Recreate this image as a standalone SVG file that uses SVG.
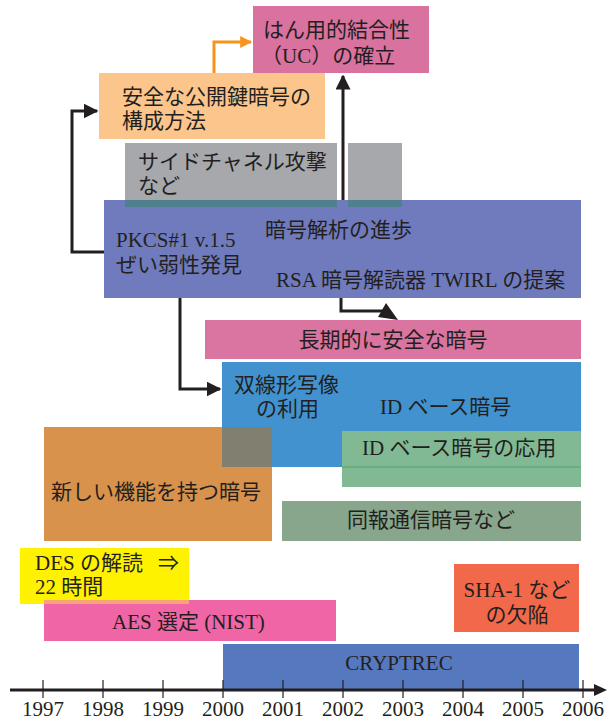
<svg xmlns="http://www.w3.org/2000/svg" width="608" height="722" viewBox="0 0 608 722">
<defs>
<style>
text{font-family:"Liberation Serif","Noto Sans CJK JP",serif;font-size:21px;fill:#231f20}
.c{text-anchor:middle}
.ln{fill:none;stroke:#231f20;stroke-width:3}
.or{fill:none;stroke:#f7941d;stroke-width:3}
</style>
<marker id="ah" viewBox="0 0 10 10" refX="9" refY="5" markerWidth="5" markerHeight="5" orient="auto" markerUnits="strokeWidth"><path d="M0,0 L10,5 L0,10 z" fill="#231f20"/></marker>
<marker id="aho" viewBox="0 0 10 10" refX="9" refY="5" markerWidth="4" markerHeight="4" orient="auto" markerUnits="strokeWidth"><path d="M0,0 L10,5 L0,10 z" fill="#f7941d"/></marker>
</defs>
<rect width="608" height="722" fill="#fff"/>

<g id="uc"><rect x="253" y="6" width="176" height="67" fill="#d9729f"/><text x="263" y="37">はん用的結合性</text><text x="261" y="63">（UC）の確立</text></g>
<g id="safe-pk"><rect x="99" y="73" width="226" height="66" fill="#fbc58b"/><text x="122" y="104">安全な公開鍵暗号の</text><text x="122" y="128">構成方法</text></g>
<g id="sidechannel"><rect x="125" y="143" width="212" height="64" fill="#a7a8ac"/><rect x="348" y="143" width="54" height="64" fill="#a7a8ac"/><text x="138" y="169">サイドチャネル攻撃</text><text x="138" y="193">など</text></g>
<g id="cryptanalysis"><rect x="104" y="200" width="477" height="98" fill="#6f7bbd"/><rect x="125" y="200" width="212" height="7" fill="#4e808e"/><rect x="348" y="200" width="54" height="7" fill="#4e808e"/>
<text x="265" y="237">暗号解析の進歩</text><text x="116" y="247">PKCS#1 v.1.5</text><text x="116" y="272">ぜい弱性発見</text><text x="276" y="287">RSA 暗号解読器 TWIRL の提案</text></g>
<g id="longterm"><rect x="205" y="320" width="376" height="39" fill="#d975a0"/><text class="c" x="393" y="347">長期的に安全な暗号</text></g>
<g id="idbased"><rect x="222" y="362" width="359" height="105" fill="#4192cf"/><text x="234" y="392">双線形写像</text><text x="256" y="416">の利用</text><text x="380" y="414">ID ベース暗号</text></g>
<g id="newfunc"><rect x="44" y="427" width="228" height="114" fill="#d9924b"/><rect x="222" y="427" width="50" height="40" fill="#817f70"/><text x="51" y="499">新しい機能を持つ暗号</text></g>
<g id="idapp"><rect x="342" y="431" width="239" height="56" fill="#82b995"/><line x1="342" y1="467" x2="581" y2="467" stroke="#4fa76a" stroke-width="1"/><text x="362" y="455">ID ベース暗号の応用</text></g>
<g id="broadcast"><rect x="282" y="501" width="299" height="40" fill="#87a68b"/><text x="347" y="527">同報通信暗号など</text></g>
<g id="des"><rect x="20" y="548" width="169" height="56" fill="#fff200"/><text x="35" y="570">DES の解読 <tspan x="158">⇒</tspan></text><text x="35" y="594">22 時間</text></g>
<g id="aes"><rect x="44" y="600" width="292" height="41" fill="#f065a5"/><rect x="44" y="600" width="145" height="4" fill="#f6a379"/><text x="112" y="629">AES 選定 (NIST)</text></g>
<g id="sha1"><rect x="454" y="564" width="125" height="68" fill="#f1694a"/><text class="c" x="517" y="597">SHA-1 など</text><text class="c" x="517" y="622">の欠陥</text></g>
<g id="cryptrec"><rect x="223" y="644" width="356" height="46" fill="#5578be"/><text class="c" x="399" y="670">CRYPTREC</text></g>

<g id="connectors">
<path class="or" d="M214,73 V42 H251" marker-end="url(#aho)"/>
<path class="ln" d="M343,200 V76" marker-end="url(#ah)"/>
<path class="ln" d="M104,252 H72 V111 H97" marker-end="url(#ah)"/>
<path class="ln" d="M180,298 V389 H220" marker-end="url(#ah)"/>
<path class="ln" d="M341,298 V311 H387"/>
<polygon points="386,303 398,320 378,317" fill="#231f20"/>
</g>

<g id="axis">
<path class="ln" d="M10,690 H596" stroke-width="2.5"/>
<polygon points="607,690 594,684 594,696" fill="#231f20"/>
<g stroke="#231f20" stroke-width="1.2">
<line x1="43" y1="680" x2="43" y2="698"/><line x1="103" y1="680" x2="103" y2="698"/><line x1="163" y1="680" x2="163" y2="698"/><line x1="223" y1="680" x2="223" y2="698"/><line x1="283" y1="680" x2="283" y2="698"/><line x1="343" y1="680" x2="343" y2="698"/><line x1="403" y1="680" x2="403" y2="698"/><line x1="463" y1="680" x2="463" y2="698"/><line x1="523" y1="680" x2="523" y2="698"/><line x1="583" y1="680" x2="583" y2="698"/>
</g>
<g style="font-size:19px">
<text class="c" x="43" y="716">1997</text><text class="c" x="103" y="716">1998</text><text class="c" x="163" y="716">1999</text><text class="c" x="223" y="716">2000</text><text class="c" x="283" y="716">2001</text><text class="c" x="343" y="716">2002</text><text class="c" x="403" y="716">2003</text><text class="c" x="463" y="716">2004</text><text class="c" x="523" y="716">2005</text><text class="c" x="583" y="716">2006</text>
</g>
</g>
</svg>
